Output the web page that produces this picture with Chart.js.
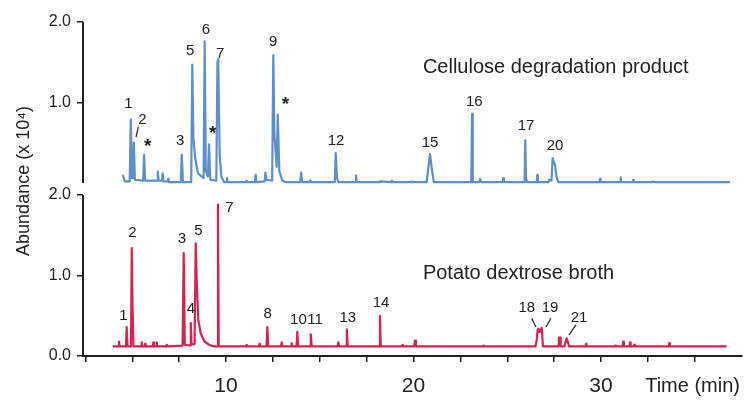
<!DOCTYPE html>
<html>
<head>
<meta charset="utf-8">
<script src="https://cdn.jsdelivr.net/npm/chart.js@4.4.1/dist/chart.umd.min.js"></script>
<style>
  body { margin: 0; background: #fff; }
  #wrap { width: 754px; height: 408px; }
</style>
</head>
<body>
<div id="wrap"><canvas id="chrom" width="754" height="408"></canvas></div>
<script>
// x axis: retention time (min)
var X_MIN = 2.37, X_MAX = 37.52;
var X_TICKS = [2.5, 5, 7.5, 10, 12.5, 15, 17.5, 20, 22.5, 25, 27.5, 30, 32.5, 35];
var X_LABELS = [10, 20, 30];

// each panel runs 0..2 (x 10^4); the upper panel sits on top of the lower one
var PANEL_TICKS = [0, 1, 2];
var TOP_TICKS = [1, 2];
var TOP_OFFSET = 2.15;
var Y_MAX = 4.15;

// Cellulose degradation product (upper, blue trace)
var cellTime = [4.49, 4.60, 4.86, 4.92, 4.98, 5.03, 5.08, 5.14, 5.58, 5.63, 5.68, 6.32, 6.36, 6.40, 6.58, 6.62, 6.66,
  6.88, 6.91, 6.94, 7.58, 7.64, 7.70, 8.14, 8.20, 8.26, 8.36, 8.50, 8.80, 8.86, 8.92, 9.03, 9.09, 9.16, 9.48, 9.54,
  9.58, 9.66, 9.75, 9.90, 10.02, 10.05, 10.08, 11.07, 11.10, 11.13, 11.54, 11.58, 11.62, 12.06, 12.10, 12.16, 12.46,
  12.52, 12.58, 12.70, 12.76, 12.84, 13.00, 13.20, 13.96, 14.00, 14.06, 14.45, 14.48, 14.51, 15.80, 15.85, 15.92,
  16.00, 16.89, 16.93, 16.97, 18.18, 18.21, 18.80, 18.84, 18.90, 19.87, 19.90, 19.93, 20.70, 20.82, 20.88, 20.96,
  21.08, 23.08, 23.12, 23.16, 23.50, 23.55, 23.62, 24.76, 24.79, 24.82, 25.92, 25.96, 26.00, 26.03, 26.57, 26.60,
  26.63, 27.20, 27.24, 27.36, 27.42, 27.50, 27.55, 27.62, 27.72, 29.92, 29.95, 29.98, 31.02, 31.05, 31.08, 31.69,
  31.72, 31.75, 32.73, 32.76, 32.79, 36.88];
var cellAbund = [0.10, 0.02, 0.02, 0.79, 0.06, 0.06, 0.50, 0.04, 0.03, 0.35, 0.03, 0.03, 0.14, 0.03, 0.03, 0.12, 0.02,
  0.02, 0.05, 0.01, 0.01, 0.35, 0.01, 0.01, 1.47, 0.55, 0.30, 0.12, 0.06, 1.76, 0.15, 0.08, 0.48, 0.04, 0.03, 1.50,
  1.54, 0.35, 0.08, 0.01, 0.01, 0.06, 0.01, 0.01, 0.03, 0.01, 0.01, 0.10, 0.01, 0.02, 0.13, 0.04, 0.03,
  1.59, 0.60, 0.20, 0.85, 0.15, 0.03, 0.01, 0.01, 0.13, 0.01, 0.01, 0.03, 0.01, 0.01, 0.37, 0.06,
  0.01, 0.01, 0.09, 0.01, 0.01, 0.02, 0.01, 0.03, 0.01, 0.01, 0.02, 0.01, 0.01, 0.25, 0.36, 0.20,
  0.01, 0.01, 0.86, 0.01, 0.01, 0.05, 0.01, 0.01, 0.06, 0.01, 0.01, 0.53, 0.04, 0.01, 0.01, 0.10,
  0.01, 0.01, 0.04, 0.03, 0.31, 0.25, 0.22, 0.08, 0.01, 0.01, 0.05, 0.01, 0.01, 0.07, 0.01, 0.01,
  0.04, 0.01, 0.01, 0.02, 0.01, 0.01];

// Potato dextrose broth (lower, red trace)
var potatoTime = [3.96, 4.26, 4.29, 4.32, 4.66, 4.70, 4.74, 4.93, 4.97, 5.01, 5.06, 5.47, 5.50, 5.53, 5.65, 5.68, 5.71,
  6.09, 6.12, 6.15, 6.27, 6.30, 6.33, 6.81, 6.84, 6.87, 7.68, 7.74, 7.80, 8.08, 8.12, 8.16, 8.32, 8.38, 8.44, 8.52,
  8.65, 8.85, 9.10, 9.31, 9.53, 9.57, 9.61, 11.07, 11.10, 11.13, 11.75, 11.78, 11.81, 12.16, 12.20, 12.25, 12.93,
  12.97, 13.01, 13.47, 13.50, 13.53, 13.76, 13.80, 13.85, 14.48, 14.52, 14.57, 15.95, 15.99, 16.03, 16.40, 16.44,
  16.49, 18.17, 18.21, 18.25, 19.39, 19.42, 19.45, 20.03, 20.08, 20.13, 23.69, 23.72, 23.75, 26.50, 26.57, 26.62,
  26.66, 26.72, 26.80, 26.84, 26.90, 27.72, 27.75, 27.82, 27.85, 28.05, 28.17, 28.30, 29.17, 29.20, 29.23, 30.72,
  30.75, 30.78, 31.16, 31.19, 31.22, 31.52, 31.55, 31.58, 31.75, 31.78, 31.81, 33.61, 33.64, 33.67, 36.70];
var potatoAbund = [0.12, 0.12, 0.18, 0.12, 0.12, 0.36, 0.12, 0.12, 1.34, 0.65, 0.12, 0.12, 0.17, 0.12, 0.12, 0.15, 0.12,
  0.12, 0.17, 0.12, 0.12, 0.17, 0.12, 0.12, 0.14, 0.12, 0.13, 1.28, 0.14, 0.13, 0.41, 0.14, 0.15, 1.40, 0.90, 0.45,
  0.28, 0.18, 0.14, 0.12, 0.12, 1.88, 0.12, 0.12, 0.14, 0.12, 0.12, 0.15, 0.12, 0.12, 0.36, 0.12, 0.12,
  0.17, 0.12, 0.12, 0.16, 0.12, 0.12, 0.30, 0.12, 0.12, 0.27, 0.12, 0.12, 0.17, 0.12, 0.12, 0.33,
  0.12, 0.12, 0.50, 0.12, 0.12, 0.14, 0.12, 0.12, 0.19, 0.12, 0.12, 0.13, 0.12, 0.12, 0.20, 0.32,
  0.34, 0.30, 0.33, 0.35, 0.12, 0.12, 0.23, 0.23, 0.12, 0.12, 0.22, 0.12, 0.12, 0.15, 0.12, 0.12,
  0.13, 0.12, 0.12, 0.18, 0.12, 0.12, 0.17, 0.12, 0.12, 0.14, 0.12, 0.12, 0.16, 0.12, 0.12];

// peak labels (time, abundance within the panel)
var cellLabels = ['1', '2', '*', '3', '5', '6', '*', '7', '9', '*', '12', '15', '16', '17', '20'];
var cellLabelTime = [4.79, 5.54, 5.82, 7.55, 8.08, 8.92, 9.29, 9.68, 12.52, 13.17, 15.87, 20.88, 23.24, 26.0, 27.55];
var cellLabelAbund = [0.99, 0.80, 0.50, 0.53, 1.65, 1.91, 0.66, 1.62, 1.77, 1.02, 0.53, 0.51, 1.02, 0.72, 0.47];
var potatoLabels = ['1', '2', '3', '4', '5', '7', '8', '10', '11', '13', '14', '18', '19', '21'];
var potatoLabelTime = [4.52, 5.0, 7.65, 8.12, 8.52, 10.18, 12.22, 13.86, 14.75, 16.49, 18.27, 26.04, 27.28, 28.83];
var potatoLabelAbund = [0.51, 1.54, 1.46, 0.60, 1.57, 1.85, 0.53, 0.46, 0.46, 0.48, 0.67, 0.61, 0.61, 0.49];

// leader strokes [t1, v1, t2, v2]
var cellLeaders = [[5.32, 0.70, 5.20, 0.57]];
var potatoLeaders = [[26.30, 0.47, 26.53, 0.36], [27.32, 0.47, 27.07, 0.36], [28.67, 0.39, 28.29, 0.26]];

var BLUE = '#5f8fcb';
var RED = '#d8234f';
var INK = '#222222';

function toPoints(ts, vs, offset) {
    var pts = [];
    for (var i = 0; i < ts.length; i++) {
        pts.push({x: ts[i], y: vs[i] + offset});
    }
    return pts;
}

function centeredText(ctx, text, cx, cy) {
    var m = ctx.measureText(text);
    ctx.textAlign = 'center';
    ctx.textBaseline = 'alphabetic';
    ctx.fillText(text, cx, cy + (m.actualBoundingBoxAscent - m.actualBoundingBoxDescent) / 2);
}

var annotate = {
    id: 'annotate',
    afterDraw: function(chart) {
        var ctx = chart.ctx;
        var x = chart.scales.x, y = chart.scales.y;
        var area = chart.chartArea;
        ctx.save();

        // two separate y axis lines
        ctx.strokeStyle = INK;
        ctx.lineWidth = 2;
        [[0, 2], [TOP_OFFSET, TOP_OFFSET + 2]].forEach(function(seg) {
            ctx.beginPath();
            ctx.moveTo(area.left, y.getPixelForValue(seg[0]));
            ctx.lineTo(area.left, y.getPixelForValue(seg[1]));
            ctx.stroke();
        });

        // peak numbers
        ctx.fillStyle = INK;
        function labels(texts, ts, vs, offset) {
            for (var i = 0; i < texts.length; i++) {
                ctx.font = texts[i] === '*' ? 'bold 19px "Liberation Sans", Arial' : '15px "Liberation Sans", Arial';
                centeredText(ctx, texts[i], x.getPixelForValue(ts[i]), y.getPixelForValue(vs[i] + offset));
            }
        }
        labels(cellLabels, cellLabelTime, cellLabelAbund, TOP_OFFSET);
        labels(potatoLabels, potatoLabelTime, potatoLabelAbund, 0);

        ctx.lineWidth = 1.2;
        function leaders(list, offset) {
            list.forEach(function(l) {
                ctx.beginPath();
                ctx.moveTo(x.getPixelForValue(l[0]), y.getPixelForValue(l[1] + offset));
                ctx.lineTo(x.getPixelForValue(l[2]), y.getPixelForValue(l[3] + offset));
                ctx.stroke();
            });
        }
        leaders(cellLeaders, TOP_OFFSET);
        leaders(potatoLeaders, 0);

        // panel names
        ctx.font = '20px "Liberation Sans", Arial';
        ctx.textAlign = 'left';
        ctx.textBaseline = 'middle';
        ctx.fillText('Cellulose degradation product', x.getPixelForValue(20.5), y.getPixelForValue(1.43 + TOP_OFFSET));
        ctx.fillText('Potato dextrose broth', x.getPixelForValue(20.5), y.getPixelForValue(1.03));

        // axis titles
        ctx.font = '20px "Liberation Sans", Arial';
        ctx.textAlign = 'right';
        ctx.fillText('Time (min)', area.right - 2, area.bottom + 30);

        ctx.translate(24, 181);
        ctx.rotate(-Math.PI / 2);
        ctx.font = '18px "Liberation Sans", Arial';
        ctx.textAlign = 'center';
        ctx.fillText('Abundance (x 10\u2074)', 0, 0);
        ctx.restore();
    }
};

new Chart(document.getElementById('chrom').getContext('2d'), {
    type: 'scatter',
    data: {
        datasets: [{
            label: 'Cellulose degradation product',
            data: toPoints(cellTime, cellAbund, TOP_OFFSET),
            showLine: true,
            borderColor: BLUE,
            borderWidth: 2.2,
            borderJoinStyle: 'round',
            pointRadius: 0,
            tension: 0
        }, {
            label: 'Potato dextrose broth',
            data: toPoints(potatoTime, potatoAbund, 0),
            showLine: true,
            borderColor: RED,
            borderWidth: 2.2,
            borderJoinStyle: 'round',
            pointRadius: 0,
            tension: 0
        }]
    },
    options: {
        responsive: false,
        animation: false,
        events: [],
        layout: {padding: {top: 22, right: 12, left: 0, bottom: 0}},
        plugins: {legend: {display: false}, tooltip: {enabled: false}},
        scales: {
            x: {
                type: 'linear',
                min: X_MIN,
                max: X_MAX,
                afterBuildTicks: function(scale) {
                    scale.ticks = X_TICKS.map(function(v) { return {value: v}; });
                },
                afterFit: function(scale) { scale.height = 52; },
                ticks: {
                    autoSkip: false,
                    maxRotation: 0,
                    padding: 12,
                    color: INK,
                    font: {family: '"Liberation Sans", Arial', size: 21},
                    callback: function(v) { return X_LABELS.indexOf(v) >= 0 ? String(v) : ''; }
                },
                grid: {drawOnChartArea: false, tickLength: 6, color: INK, lineWidth: 1.5},
                border: {display: true, color: INK, width: 2}
            },
            y: {
                type: 'linear',
                min: 0,
                max: Y_MAX,
                afterBuildTicks: function(scale) {
                    var t = PANEL_TICKS.concat(TOP_TICKS.map(function(v) { return v + TOP_OFFSET; }));
                    scale.ticks = t.map(function(v) { return {value: v}; });
                },
                afterFit: function(scale) { scale.width = 83; },
                ticks: {
                    padding: 6,
                    color: INK,
                    font: {family: '"Liberation Sans", Arial', size: 16},
                    callback: function(v) { return (v > 2.05 ? v - TOP_OFFSET : v).toFixed(1); }
                },
                grid: {drawOnChartArea: false, tickLength: 6, color: INK, lineWidth: 1.5},
                border: {display: false}
            }
        }
    },
    plugins: [annotate]
});
</script>
</body>
</html>
